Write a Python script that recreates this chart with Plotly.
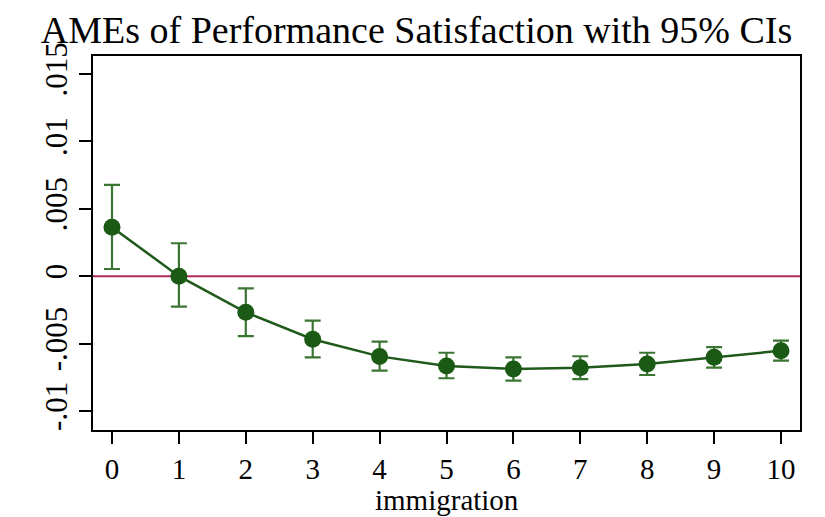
import plotly.graph_objects as go

immigration = [0, 1, 2, 3, 4, 5, 6, 7, 8, 9, 10]
ame = [0.00363, 0.0000, -0.00268, -0.00468, -0.00595, -0.00666, -0.00688, -0.00679, -0.00651, -0.00602, -0.00553]
ci_upper = [0.00677, 0.00244, -0.0009, -0.0033, -0.00486, -0.00568, -0.00602, -0.00594, -0.00568, -0.00527, -0.00478]
ci_lower = [0.00053, -0.00226, -0.00444, -0.00602, -0.00701, -0.00757, -0.00775, -0.00763, -0.00733, -0.00679, -0.00627]

y_tickvals = [-0.01, -0.005, 0, 0.005, 0.01, 0.015]
y_ticktext = ["-.01", "-.005", "0", ".005", ".01", ".015"]
x_ticks = list(range(0, 11))
x_title = "immigration"

err_plus = [u - m for u, m in zip(ci_upper, ame)]
err_minus = [m - l for m, l in zip(ame, ci_lower)]

font_family = "Liberation Serif, Times New Roman, serif"

# page has an 8px body margin, so figure is sized to fit the 825x517 window
W, H = 817, 509
M_L, M_R, M_T, M_B = 85, 25, 48, 87
plot_h = H - M_T - M_B

fig = go.Figure()
fig.add_trace(go.Scatter(
    x=immigration, y=ame,
    mode="lines+markers",
    line=dict(color="#1f5a1a", width=2.5),
    marker=dict(color="#1a5a14", size=17),
    error_y=dict(type="data", symmetric=False, array=err_plus, arrayminus=err_minus,
                 color="#3a7532", thickness=2.2, width=8),
    showlegend=False,
))
fig.add_hline(y=0, line=dict(color="#b02a5a", width=2), layer="below")

fig.add_annotation(
    text=x_title, xref="paper", yref="paper", x=0.5, xanchor="center",
    y=-M_B / plot_h, yanchor="bottom", showarrow=False, borderpad=0,
    font=dict(family=font_family, size=29, color="black"),
)

fig.update_layout(
    width=W, height=H,
    margin=dict(l=M_L, r=M_R, t=M_T, b=M_B, autoexpand=False),
    paper_bgcolor="white", plot_bgcolor="white",
    title=dict(text="AMEs of Performance Satisfaction with 95% CIs",
               x=0.5, xanchor="center", y=1 - 22 / H, yanchor="middle",
               font=dict(family=font_family, size=38, color="black")),
    font=dict(family=font_family, color="black"),
)
fig.update_xaxes(
    range=[-0.284, 10.284], tickvals=x_ticks, ticktext=[str(v) for v in x_ticks],
    showline=True, linecolor="black", linewidth=2, mirror=True,
    ticks="outside", ticklen=12, tickwidth=2, tickcolor="black",
    showgrid=False, zeroline=False, automargin=False,
    tickfont=dict(size=29),
)
fig.update_yaxes(
    range=[-0.01141, 0.01633], tickvals=y_tickvals, ticktext=y_ticktext,
    tickangle=-90,
    showline=True, linecolor="black", linewidth=2, mirror=True,
    ticks="outside", ticklen=12, tickwidth=2, tickcolor="black",
    showgrid=False, zeroline=False, automargin=False,
    tickfont=dict(size=31),
)

fig.write_html("out.html")
